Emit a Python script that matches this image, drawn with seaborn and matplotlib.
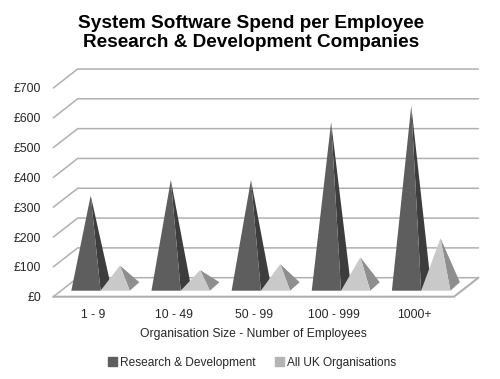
import matplotlib
matplotlib.use("Agg")
import matplotlib.pyplot as plt
from matplotlib.patches import Patch
import pandas as pd
import seaborn as sns

sizes = ["1 - 9", "10 - 49", "50 - 99", "100 - 999", "1000+"]
rnd_spend = [305, 357, 357, 551, 606]
uk_spend = [70, 55, 75, 98, 162]
series_names = ["Research & Development", "All UK Organisations"]
ticks = [0, 100, 200, 300, 400, 500, 600, 700]

front_colors = ["#5e5e5e", "#c9c9c9"]
side_colors = ["#3d3d3d", "#8e8e8e"]
grid_color = "#b0b0b0"
text_color = "#262626"

W, H = 500, 379
ax_left, ax_right, ax_top, ax_bottom = 53.3, 454.0, 88.0, 296.7

sns.set_theme(style="white")
plt.rcParams["font.family"] = ["Liberation Sans", "DejaVu Sans"]

df = pd.DataFrame({
    "size": sizes * 2,
    "spend": rnd_spend + uk_spend,
    "series": [series_names[0]] * 5 + [series_names[1]] * 5,
})

fig = plt.figure(figsize=(W / 100, H / 100), dpi=100)
ax = fig.add_axes([ax_left / W, 1 - ax_bottom / H, (ax_right - ax_left) / W, (ax_bottom - ax_top) / H])

# the bars only give the positions, the pyramids are drawn on top of them
sns.barplot(data=df, x="size", y="spend", hue="series", order=sizes, hue_order=series_names,
            palette=front_colors, width=0.73, legend=False, ax=ax)
ax.set_xlim(-0.5, 4.5)
ax.set_ylim(0, 700)

# pixels to data units
px_x = 5 / (ax_right - ax_left)
px_y = 700 / (ax_bottom - ax_top)
wall_dx = 24.4 * px_x
wall_dy = 19.0 * px_y
shift_x = 7.2 * px_x
shift_y = 6.0 * px_y
depth_x = 9.5 * px_x
depth_y = 8.5 * px_y

x0, x1 = -0.5, 4.5
for t in ticks:
    ax.plot([x0, x0 + wall_dx, x1 + wall_dx], [t, t + wall_dy, t + wall_dy],
            color=grid_color, lw=1.1, clip_on=False, zorder=1, solid_joinstyle="miter")
ax.plot([x0, x1, x1 + wall_dx], [0, 0, wall_dy], color=grid_color, lw=1.5, clip_on=False, zorder=1)

for i, bars in enumerate(ax.containers):
    for bar in bars:
        bar.set_visible(False)
        left = bar.get_x() + shift_x
        right = left + bar.get_width()
        apex_x = (left + right) / 2 + depth_x / 2
        apex_y = shift_y + depth_y / 2 + bar.get_height()
        ax.fill([right, right + depth_x, apex_x], [shift_y, shift_y + depth_y, apex_y],
                color=side_colors[i], lw=0, clip_on=False, zorder=2 + i)
        ax.fill([left, right, apex_x], [shift_y, shift_y, apex_y],
                color=front_colors[i], lw=0, clip_on=False, zorder=2 + i)

sns.despine(ax=ax, left=True, bottom=True)
ax.set_yticks(ticks)
ax.set_yticklabels([f"£{t}" for t in ticks], fontsize=8.7, color=text_color)
ax.tick_params(axis="y", length=0, pad=8.7)
ax.tick_params(axis="x", length=0, pad=9, labelsize=8.7, labelcolor=text_color)
ax.set_ylabel("")
ax.set_xlabel("Organisation Size - Number of Employees", fontsize=8.7, color=text_color, labelpad=5)

fig.text(251 / W, 1 - 33 / H, "System Software Spend per Employee\nResearch & Development Companies",
         ha="center", va="center", fontsize=13.7, fontweight="bold", color="black", linespacing=1.15)

handles = [Patch(color=front_colors[0]), Patch(color="#b4b4b4")]
fig.legend(handles, series_names, loc="center", bbox_to_anchor=(252 / W, 1 - 363 / H), ncol=2, frameon=False,
           fontsize=8.6, labelcolor=text_color, handlelength=0.75, handleheight=0.75, handletextpad=0.25, columnspacing=1.6)

fig.savefig("out.png", dpi=100)
